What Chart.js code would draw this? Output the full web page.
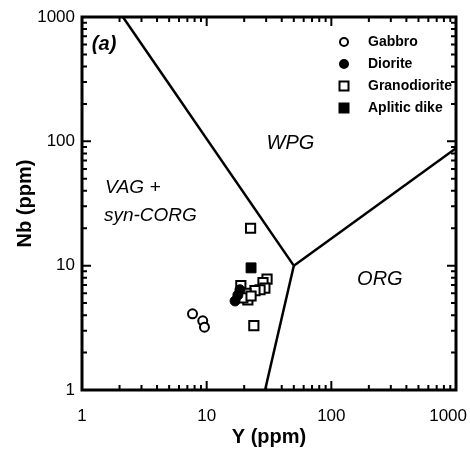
<!DOCTYPE html>
<html>
<head>
<meta charset="utf-8">
<script src="https://cdn.jsdelivr.net/npm/chart.js@4.4.0/dist/chart.umd.min.js"></script>
<style>
  body { margin: 0; background: #fff; }
  #wrap { width: 470px; height: 449px; }
</style>
</head>
<body>
<div id="wrap"><canvas id="nbY"></canvas></div>
<script>
// Y (ppm) and Nb (ppm) per rock type
const gabbroY = [7.7, 9.3, 9.6];
const gabbroNb = [4.1, 3.6, 3.2];
const dioriteY = [16.9, 17.8, 18.5];
const dioriteNb = [5.2, 5.8, 6.4];
const granoY = [22.5, 30.5, 28.3, 29.3, 26.8, 24.4, 18.8, 20.7, 21.4, 19.5, 22.7, 23.9];
const granoNb = [20.0, 7.8, 7.3, 6.6, 6.4, 6.3, 6.9, 6.0, 5.3, 5.5, 5.7, 3.3];
const apliteY = [22.7];
const apliteNb = [9.6];

// field boundaries
const vagWpgY = [2.13, 50];
const vagWpgNb = [1000, 10];
const wpgOrgY = [50, 1000];
const wpgOrgNb = [10, 88];
const vagOrgY = [50, 29.4];
const vagOrgNb = [10, 1];

const decades = [1, 10, 100, 1000];
const seriesNames = ['Gabbro', 'Diorite', 'Granodiorite', 'Aplitic dike'];

const FONT = '"Liberation Sans", Arial, Helvetica, sans-serif';

function pts(xs, ys) {
    return xs.map((x, i) => ({ x: x, y: ys[i] }));
}

function boundary(xs, ys) {
    return {
        data: pts(xs, ys),
        showLine: true,
        borderColor: '#000',
        borderWidth: 2.5,
        pointRadius: 0,
        fill: false
    };
}

// frame, inward ticks, x labels, legend and field names
const decorations = {
    id: 'decorations',
    afterDraw(chart) {
        const ctx = chart.ctx;
        const a = chart.chartArea;
        const xs = chart.scales.x;
        const ys = chart.scales.y;
        ctx.save();
        ctx.strokeStyle = '#000';
        ctx.fillStyle = '#000';
        ctx.lineWidth = 3;
        ctx.strokeRect(a.left, a.top, a.right - a.left, a.bottom - a.top);

        ctx.lineWidth = 2;
        ctx.beginPath();
        for (let d = 1; d <= 100; d *= 10) {
            for (let k = 1; k <= 10; k++) {
                const v = k * d;
                const len = (k === 1 || k === 10) ? 9 : 5;
                const px = xs.getPixelForValue(v);
                const py = ys.getPixelForValue(v);
                ctx.moveTo(px, a.bottom); ctx.lineTo(px, a.bottom - len);
                ctx.moveTo(px, a.top); ctx.lineTo(px, a.top + len);
                ctx.moveTo(a.left, py); ctx.lineTo(a.left + len, py);
                ctx.moveTo(a.right, py); ctx.lineTo(a.right - len, py);
            }
        }
        ctx.stroke();

        // x tick labels, kept inside the canvas
        ctx.font = '17px ' + FONT;
        ctx.textAlign = 'center';
        ctx.textBaseline = 'middle';
        decades.forEach(v => {
            const txt = String(v);
            const w = ctx.measureText(txt).width;
            const px = Math.min(xs.getPixelForValue(v), chart.width - 3 - w / 2);
            ctx.fillText(txt, px, a.bottom + 26);
        });

        // legend
        ctx.font = 'bold 14px ' + FONT;
        ctx.textAlign = 'left';
        seriesNames.forEach((name, i) => {
            const ds = chart.data.datasets[i];
            const mx = a.right - 112;
            const my = a.top + 25 + i * 22;
            ctx.lineWidth = 2;
            ctx.beginPath();
            if (ds.pointStyle === 'circle') {
                ctx.arc(mx, my, 4, 0, Math.PI * 2);
            } else {
                ctx.rect(mx - 4.5, my - 4.5, 9, 9);
            }
            ctx.fillStyle = ds.backgroundColor;
            ctx.fill();
            ctx.stroke();
            ctx.fillStyle = '#000';
            ctx.fillText(name, a.right - 88, my);
        });

        // field names
        const label = (txt, x, y, font, align) => {
            ctx.font = font;
            ctx.textAlign = align;
            ctx.fillText(txt, xs.getPixelForValue(x), ys.getPixelForValue(y));
        };
        label('(a)', 1.2, 600, 'italic bold 20px ' + FONT, 'left');
        label('WPG', 47, 97, 'italic 20px ' + FONT, 'center');
        label('VAG +', 1.53, 42, 'italic 19px ' + FONT, 'left');
        label('syn-CORG', 1.5, 25, 'italic 19px ' + FONT, 'left');
        label('ORG', 245, 7.7, 'italic 20px ' + FONT, 'center');
        ctx.restore();
    }
};

function logAxis(title, pos) {
    return {
        type: 'logarithmic',
        position: pos,
        min: 1,
        max: 1000,
        afterBuildTicks: (s) => { s.ticks = decades.map(v => ({ value: v })); },
        afterFit: (s) => {
            if (pos === 'left') s.width = 82; else s.height = 59;
            s.paddingLeft = 0; s.paddingRight = 0;
            s.paddingTop = 0; s.paddingBottom = 0;
        },
        grid: { display: false, drawTicks: false },
        border: { display: false },
        ticks: {
            display: pos === 'left',
            color: '#000',
            font: { family: FONT, size: 17 },
            padding: 7,
            callback: (v) => String(v)
        },
        title: {
            display: true,
            text: title,
            color: '#000',
            font: { family: FONT, size: 20, weight: 'bold' },
            padding: pos === 'left' ? { top: 13, bottom: 0 } : { top: 0, bottom: 0 }
        }
    };
}

new Chart(document.getElementById('nbY'), {
    type: 'scatter',
    data: {
        datasets: [
            { label: 'Gabbro', data: pts(gabbroY, gabbroNb), pointStyle: 'circle', pointRadius: 4.5,
              borderColor: '#000', backgroundColor: '#fff', borderWidth: 2 },
            { label: 'Diorite', data: pts(dioriteY, dioriteNb), pointStyle: 'circle', pointRadius: 5,
              borderColor: '#000', backgroundColor: '#000', borderWidth: 1 },
            { label: 'Granodiorite', data: pts(granoY, granoNb), pointStyle: 'rect', pointRadius: 6.5,
              borderColor: '#000', backgroundColor: '#fff', borderWidth: 2 },
            { label: 'Aplitic dike', data: pts(apliteY, apliteNb), pointStyle: 'rect', pointRadius: 7,
              borderColor: '#000', backgroundColor: '#000', borderWidth: 1 },
            boundary(vagWpgY, vagWpgNb),
            boundary(wpgOrgY, wpgOrgNb),
            boundary(vagOrgY, vagOrgNb)
        ]
    },
    options: {
        responsive: true,
        maintainAspectRatio: false,
        animation: false,
        layout: { padding: { top: 17, right: 14, left: 0, bottom: 0 } },
        plugins: { legend: { display: false }, tooltip: { enabled: false } },
        scales: {
            x: logAxis('Y (ppm)', 'bottom'),
            y: logAxis('Nb (ppm)', 'left')
        }
    },
    plugins: [decorations]
});
</script>
</body>
</html>
